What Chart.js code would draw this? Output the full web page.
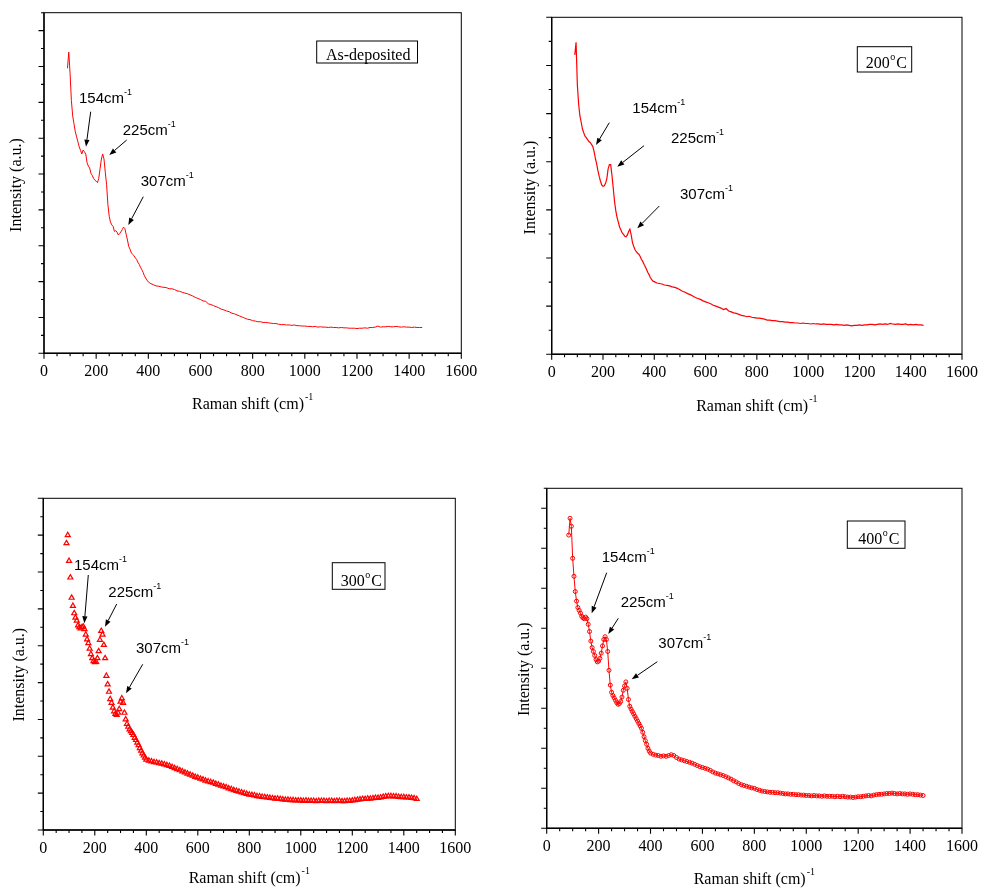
<!DOCTYPE html>
<html><head><meta charset="utf-8">
<script src="https://cdn.jsdelivr.net/npm/chart.js@4.4.0/dist/chart.umd.min.js"></script>
<style>
html,body{margin:0;padding:0;background:#fff;}
#wrap{position:relative;width:987px;height:888px;overflow:hidden;background:#fff;}
#wrap canvas{position:absolute;left:0;top:0;}
</style></head><body><div id="wrap">
<canvas id="c0" width="987" height="888"></canvas>
<canvas id="c1" width="987" height="888"></canvas>
<canvas id="c2" width="987" height="888"></canvas>
<canvas id="c3" width="987" height="888"></canvas>
</div>
<script>
// ---------------- DATA ----------------
const ramanShift = [85,90,95,100,105,110,115,120,125,130,135,140,145,150,155,160,165,170,175,180,185,190,195,200,205,210,215,220,225,230,235,240,245,250,255,260,265,270,275,280,285,290,295,300,305,310,315,320,325,330,335,340,345,350,355,360,365,370,375,380,385,390,395,400,
410,420,430,440,450,460,470,480,490,500,510,520,530,540,550,560,570,580,590,600,610,620,630,640,650,660,670,680,690,700,710,720,730,740,750,760,770,780,790,800,810,820,830,840,850,860,870,880,890,900,910,920,930,940,950,960,970,980,990,1000,1010,1020,1030,1040,1050,1060,1070,1080,1090,1100,1110,1120,1130,1140,1150,1160,1170,1180,1190,1200,1210,1220,1230,1240,1250,1260,1270,1280,1290,1300,1310,1320,1330,1340,1350,1360,1370,1380,1390,1400,1410,1420,1430,1440,1450];

const asDeposited = [null,7.95,8.40,7.80,7.05,6.62,6.40,6.18,6.04,5.90,5.76,5.66,5.56,5.67,5.62,5.56,5.32,5.22,5.17,5.02,4.96,4.88,4.83,4.80,4.76,4.88,5.15,5.42,5.56,5.42,5.05,4.70,4.15,3.82,3.66,3.58,3.54,3.40,3.42,3.38,3.30,3.34,3.39,3.45,3.52,3.48,3.32,3.16,2.98,2.90,2.80,2.76,2.72,2.66,2.62,2.54,2.48,2.40,2.33,2.26,2.16,2.10,2.04,1.99,
1.94,1.91,1.88,1.87,1.85,1.84,1.83,1.80,1.80,1.78,
1.74,1.73,1.70,1.68,1.66,1.63,1.60,1.56,1.53,1.50,
1.46,1.45,1.38,1.36,1.33,1.30,1.27,1.23,1.21,1.18,
1.16,1.12,1.10,1.07,1.04,1.01,0.98,0.95,0.94,0.91,
0.90,0.88,0.88,0.86,0.86,0.85,0.84,0.83,0.83,0.81,
0.80,0.80,0.79,0.79,0.78,0.79,0.77,0.77,0.76,0.76,
0.75,0.75,0.74,0.75,0.73,0.74,0.73,0.73,0.72,0.73,
0.72,0.72,0.71,0.72,0.71,0.71,0.70,0.70,0.70,0.69,
0.70,0.70,0.71,0.70,0.72,0.72,0.73,0.76,0.73,0.74,
0.74,0.75,0.74,0.74,0.75,0.74,0.73,0.74,0.73,0.73,
0.72,0.73,0.72,0.72,0.72];

const annealed200 = [null,6.22,6.48,5.60,5.20,4.95,4.82,4.68,4.60,4.53,4.50,4.46,4.42,4.40,4.36,4.32,4.22,4.08,3.96,3.82,3.70,3.60,3.52,3.49,3.50,3.55,3.65,3.85,3.94,3.94,3.72,3.45,3.18,2.98,2.84,2.74,2.64,2.58,2.52,2.49,2.45,2.44,2.48,2.55,2.60,2.48,2.32,2.24,2.17,2.13,2.10,2.08,2.03,1.97,1.93,1.87,1.82,1.76,1.70,1.65,1.59,1.55,1.52,1.51,
1.48,1.47,1.46,1.44,1.43,1.42,1.40,1.39,1.37,1.34,
1.31,1.29,1.26,1.24,1.21,1.18,1.16,1.14,1.11,1.09,
1.07,1.05,1.02,1.00,0.98,0.96,0.93,0.95,0.90,0.88,
0.86,0.85,0.83,0.81,0.80,0.78,0.79,0.77,0.76,0.75,
0.75,0.74,0.73,0.71,0.71,0.70,0.70,0.69,0.68,0.68,
0.67,0.67,0.66,0.66,0.65,0.65,0.64,0.65,0.64,0.64,
0.63,0.64,0.63,0.63,0.62,0.63,0.62,0.62,0.62,0.61,
0.62,0.61,0.61,0.60,0.61,0.60,0.59,0.60,0.60,0.61,
0.60,0.61,0.61,0.62,0.62,0.61,0.62,0.63,0.62,0.63,
0.62,0.64,0.63,0.62,0.63,0.62,0.62,0.63,0.61,0.62,
0.61,0.62,0.61,0.61,0.60];

const annealed300 = [null,7.78,8.00,7.30,6.85,6.30,6.08,5.88,5.76,5.68,5.55,5.50,5.47,5.50,5.52,5.45,5.30,5.17,5.07,4.92,4.77,4.66,4.58,4.55,4.56,4.66,4.85,5.16,5.40,5.30,5.02,4.66,4.18,3.95,3.75,3.55,3.45,3.32,3.22,3.15,3.12,3.18,3.28,3.48,3.57,3.45,3.18,3.00,2.88,2.80,2.73,2.68,2.63,2.58,2.50,2.44,2.37,2.30,2.22,2.15,2.08,2.02,1.96,1.91,
1.88,1.86,1.84,1.83,1.81,1.80,1.78,1.76,1.74,1.71,
1.68,1.65,1.62,1.59,1.56,1.53,1.50,1.47,1.44,1.42,
1.39,1.37,1.34,1.32,1.30,1.28,1.25,1.23,1.20,1.18,
1.16,1.13,1.11,1.08,1.06,1.04,1.02,1.00,0.98,0.96,
0.95,0.94,0.92,0.91,0.90,0.89,0.88,0.87,0.86,0.85,
0.85,0.84,0.83,0.82,0.82,0.81,0.81,0.80,0.80,0.80,
0.79,0.80,0.79,0.79,0.79,0.78,0.79,0.79,0.79,0.78,
0.79,0.79,0.78,0.79,0.79,0.78,0.78,0.79,0.79,0.80,
0.81,0.82,0.83,0.84,0.84,0.85,0.85,0.86,0.87,0.87,
0.88,0.90,0.91,0.92,0.92,0.91,0.91,0.90,0.89,0.89,
0.88,0.88,0.87,0.86,0.84];

const annealed400 = [7.33,7.75,7.55,6.75,6.30,5.92,5.68,5.52,5.45,5.38,5.30,5.26,5.24,5.28,5.24,5.10,4.92,4.68,4.52,4.42,4.32,4.22,4.16,4.18,4.25,4.38,4.56,4.72,4.79,4.72,4.42,3.95,3.58,3.40,3.32,3.26,3.20,3.14,3.10,3.12,3.17,3.28,3.45,3.56,3.66,3.50,3.22,3.05,2.98,2.92,2.86,2.80,2.74,2.68,2.62,2.56,2.50,2.40,2.29,2.19,2.10,2.00,1.93,1.88,
1.85,1.83,1.82,1.80,1.81,1.80,1.82,1.84,1.82,1.77,
1.73,1.71,1.69,1.67,1.65,1.63,1.60,1.57,1.54,1.52,
1.50,1.48,1.45,1.41,1.38,1.36,1.34,1.32,1.29,1.26,
1.23,1.19,1.16,1.12,1.09,1.07,1.05,1.03,1.01,1.00,
0.97,0.95,0.93,0.92,0.91,0.90,0.90,0.89,0.89,0.88,
0.87,0.86,0.86,0.85,0.85,0.84,0.84,0.83,0.83,0.82,
0.82,0.81,0.82,0.81,0.81,0.80,0.81,0.80,0.80,0.80,
0.79,0.80,0.79,0.80,0.79,0.78,0.78,0.77,0.78,0.79,
0.79,0.80,0.81,0.82,0.81,0.83,0.84,0.85,0.85,0.86,
0.87,0.87,0.88,0.87,0.86,0.87,0.86,0.86,0.85,0.86,
0.85,0.84,0.84,0.83,0.82];

const xTickValues = [0,200,400,600,800,1000,1200,1400,1600];
const xTickLabels = ['0','200','400','600','800','1000','1200','1400','1600'];
const peakLabels = ['154','225','307'];
const sampleLabels = ['As-deposited','200','300','400'];
const yMaxima = [9.5, 7, 9, 8.5];
const xAxisTitle = 'Raman shift (cm)';
const yAxisTitle = 'Intensity (a.u.)';

// ---------------- LAYOUT (page pixels) ----------------
const layouts = [
  { area:{l:44,t:12.7,r:461.3,b:353.3}, yTitle:[17,185], xTitleY:409.3,
    box:{x:316.7,y:41,w:100.8,h:22}, boxText:[326,60], degree:false,
    ann:[[79,102.7],[122.7,135],[140.7,185.7]],
    arrows:[[90.7,111.7,86,146.7],[126.7,140,109.3,155],[143.3,196.7,128.3,225]] },
  { area:{l:551.7,t:17.3,r:970,b:354.3}, yTitle:[531,187.5], xTitleY:410.7,
    box:{x:857.3,y:46.7,w:54.4,h:25.3}, boxText:[865.7,67.7], degree:true,
    ann:[[632.3,113.3],[671,143.3],[680,199.3]],
    arrows:[[609.3,122.7,596,145],[644,145.7,617.3,166.7],[659.3,206,637.3,228.3]] },
  { area:{l:43.3,t:498.3,r:455.3,b:830}, yTitle:[19.5,674.7], xTitleY:883.3,
    box:{x:332.3,y:562.7,w:52.7,h:26.6}, boxText:[340.7,585.5], degree:true,
    ann:[[74,570],[108.3,597.3],[136,652.7]],
    arrows:[[88.3,575,84.3,623.3],[116.7,604,105,626.7],[142.7,664.3,126,693.3]] },
  { area:{l:546.7,t:488.3,r:970,b:828.3}, yTitle:[524.7,669.2], xTitleY:884,
    box:{x:847.3,y:521,w:57.7,h:27.3}, boxText:[858.3,544], degree:true,
    ann:[[601.7,562.3],[620.7,606.7],[658.3,648.3]],
    arrows:[[606.7,572.7,591.7,613.3],[618.3,618.3,608.3,634],[657.3,661.7,631.7,679.3]] }
];

const seriesList = [asDeposited, annealed200, annealed300, annealed400];
const RED = '#ff0000';
const SERIF = '"Liberation Serif", "Times New Roman", serif';
const SANS = '"Liberation Sans", Arial, sans-serif';

const dsStyles = [
  { showLine:true, borderColor:RED, borderWidth:1, pointRadius:0 },
  { showLine:true, borderColor:RED, borderWidth:1.2, pointRadius:0 },
  { showLine:false, borderColor:RED, pointStyle:'triangle', pointRadius:2.9, pointBorderWidth:1.2,
    pointBorderColor:RED, pointBackgroundColor:'rgba(255,255,255,0)' },
  { showLine:true, borderColor:RED, borderWidth:1, pointStyle:'circle', pointRadius:2, pointBorderWidth:1,
    pointBorderColor:RED, pointBackgroundColor:'rgba(255,255,255,0)' }
];

function drawArrow(ctx, x1, y1, x2, y2) {
  ctx.save();
  ctx.strokeStyle = '#000'; ctx.fillStyle = '#000'; ctx.lineWidth = 1;
  const ang = Math.atan2(y2 - y1, x2 - x1);
  const hl = 7, hw = 2.6;
  const bx = x2 - hl * Math.cos(ang), by = y2 - hl * Math.sin(ang);
  ctx.beginPath(); ctx.moveTo(x1, y1); ctx.lineTo(bx, by); ctx.stroke();
  ctx.beginPath();
  ctx.moveTo(x2, y2);
  ctx.lineTo(bx + hw * Math.sin(ang), by - hw * Math.cos(ang));
  ctx.lineTo(bx - hw * Math.sin(ang), by + hw * Math.cos(ang));
  ctx.closePath(); ctx.fill();
  ctx.restore();
}

const decorPlugin = {
  id: 'decor',
  afterDatasetsDraw(chart, args, opts) {
    const L = opts.layout, idx = opts.index;
    const ctx = chart.ctx, ca = chart.chartArea;
    const xs = chart.scales.x, ys = chart.scales.y;
    ctx.save();
    // frame
    ctx.strokeStyle = '#000';
    ctx.lineWidth = 1;
    ctx.strokeRect(ca.left, ca.top, ca.right - ca.left, ca.bottom - ca.top);
    ctx.lineWidth = 1.4;
    ctx.beginPath();
    ctx.moveTo(ca.left, ca.top); ctx.lineTo(ca.left, ca.bottom); ctx.lineTo(ca.right, ca.bottom);
    ctx.stroke();
    // ticks
    ctx.lineWidth = 1.1;
    ctx.beginPath();
    for (let v = 0; v <= xs.max + 1e-6; v += 50) {
      const px = xs.getPixelForValue(v);
      const len = (v % 200 === 0) ? 5.5 : 3;
      ctx.moveTo(px, ca.bottom); ctx.lineTo(px, ca.bottom + len);
    }
    for (let v = 0; v <= ys.max + 1e-6; v += 0.5) {
      const py = ys.getPixelForValue(v);
      const len = (Math.abs(v - Math.round(v)) < 1e-6) ? 5.5 : 3;
      ctx.moveTo(ca.left, py); ctx.lineTo(ca.left - len, py);
    }
    ctx.stroke();
    // x axis title with superscript
    ctx.fillStyle = '#000';
    ctx.textBaseline = 'alphabetic';
    ctx.font = '16px ' + SERIF;
    const w1 = ctx.measureText(xAxisTitle).width;
    ctx.font = '10px ' + SERIF;
    const w2 = ctx.measureText('-1').width;
    const cx = (ca.left + ca.right) / 2;
    const sx = cx - (w1 + w2 + 1) / 2;
    ctx.font = '16px ' + SERIF;
    ctx.textAlign = 'left';
    ctx.fillText(xAxisTitle, sx, L.xTitleY);
    ctx.font = '10px ' + SERIF;
    ctx.fillText('-1', sx + w1 + 1, L.xTitleY - 9);
    // y axis title
    ctx.save();
    ctx.translate(L.yTitle[0], L.yTitle[1]);
    ctx.rotate(-Math.PI / 2);
    ctx.font = '16px ' + SERIF;
    ctx.textAlign = 'center';
    ctx.textBaseline = 'middle';
    ctx.fillText(yAxisTitle, 0, 0);
    ctx.restore();
    // sample label box
    ctx.lineWidth = 1;
    ctx.strokeStyle = '#000';
    ctx.strokeRect(L.box.x, L.box.y, L.box.w, L.box.h);
    ctx.textAlign = 'left';
    ctx.textBaseline = 'alphabetic';
    ctx.font = '16px ' + SERIF;
    const lbl = sampleLabels[idx];
    ctx.fillText(lbl, L.boxText[0], L.boxText[1]);
    if (L.degree) {
      const lw = ctx.measureText(lbl).width;
      ctx.font = '10px ' + SERIF;
      ctx.fillText('o', L.boxText[0] + lw + 0.5, L.boxText[1] - 8);
      const ow = ctx.measureText('o').width;
      ctx.font = '16px ' + SERIF;
      ctx.fillText('C', L.boxText[0] + lw + ow + 1.5, L.boxText[1]);
    }
    // peak annotations
    L.ann.forEach((p, k) => {
      ctx.font = '15px ' + SANS;
      const t = peakLabels[k] + 'cm';
      ctx.fillText(t, p[0], p[1]);
      const tw = ctx.measureText(t).width;
      ctx.font = '9px ' + SANS;
      ctx.fillText('-1', p[0] + tw, p[1] - 8);
    });
    L.arrows.forEach(a => drawArrow(ctx, a[0], a[1], a[2], a[3]));
    ctx.restore();
  }
};

seriesList.forEach((vals, i) => {
  const L = layouts[i];
  const pts = ramanShift.map((x, k) => ({ x: x, y: vals[k] })).filter(p => p.y !== null);
  const W = 987, H = 888, yW = 10, xH = 32;
  new Chart(document.getElementById('c' + i), {
    type: 'scatter',
    data: { datasets: [Object.assign({ data: pts, label: sampleLabels[i] }, dsStyles[i])] },
    options: {
      responsive: false, animation: false, devicePixelRatio: 1,
      layout: { padding: { left: L.area.l - yW, top: L.area.t, right: W - L.area.r, bottom: H - L.area.b - xH } },
      plugins: { legend: { display: false }, tooltip: { enabled: false },
                 decor: { layout: L, index: i } },
      scales: {
        x: {
          type: 'linear', position: 'bottom', min: 0, max: 1600,
          afterBuildTicks: s => { s.ticks = xTickValues.map(v => ({ value: v })); },
          afterFit: s => { s.height = xH; },
          grid: { display: false, drawTicks: false }, border: { display: false },
          ticks: { padding: 9, color: '#000', font: { family: SERIF, size: 16 }, maxRotation: 0, autoSkip: false,
                   callback: (v, k) => xTickLabels[k] }
        },
        y: {
          type: 'linear', position: 'left', min: 0, max: yMaxima[i],
          afterFit: s => { s.width = yW; },
          grid: { display: false, drawTicks: false }, border: { display: false },
          ticks: { display: false }
        }
      }
    },
    plugins: [decorPlugin]
  });
});
</script>
</body></html>
